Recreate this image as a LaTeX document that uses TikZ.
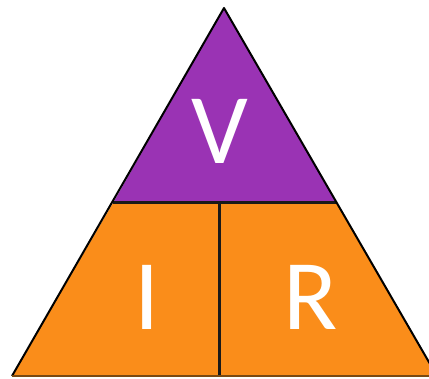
\documentclass[tikz,border=0pt]{standalone}
\usepackage{fontspec}
\setmainfont{Carlito}
\usepackage{xcolor}
\usetikzlibrary{positioning}

\definecolor{ohmpurple}{HTML}{9A33B4}
\definecolor{ohmorange}{HTML}{FA8D1A}
\definecolor{ohmbrown}{HTML}{7A4A12}

\begin{document}
\begin{tikzpicture}[
  x=1pt, y=-1pt,
  edge/.style={draw=black, line width=2pt, line join=round},
  divider/.style={draw=black!90, line width=3pt},
  letter/.style={text=white, font=\fontsize{100}{100}\selectfont, inner sep=0pt}
]
\useasboundingbox (0,0) rectangle (429,379);
\clip (0,0) rectangle (429,379);
% corner points of the triangle
\coordinate (apex) at (224,8);
\coordinate (midl) at (113,203);
\coordinate (midr) at (337,203);
\coordinate (basel) at (12,376);
\coordinate (baser) at (437,376);
\coordinate (splitt) at (219,203);
\coordinate (splitb) at (219,376);
% top and bottom parts
\fill[ohmorange] (midl) -- (midr) -- (baser) -- (basel) -- cycle;
\fill[ohmpurple] (apex) -- (midr) -- (midl) -- cycle;
\draw[divider] (midl) -- (midr);
\draw[divider] (splitt) -- (splitb);
\draw[edge] (basel) -- (apex) -- (baser);
\draw[ohmbrown, line width=2pt] (basel) -- (baser);
% letters
\node[letter] (vpart) at (220,131) {V};
\node[letter] (ipart) at (147,297) {I};
\node[letter] (rpart) at (311,297) {R};
\end{tikzpicture}
\end{document}
